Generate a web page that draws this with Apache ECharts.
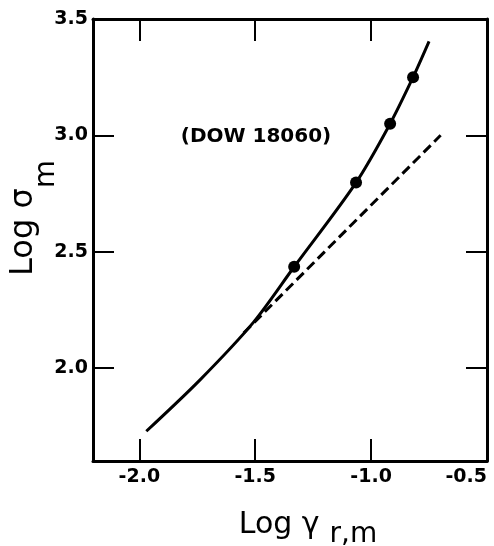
<!DOCTYPE html>
<html>
<head>
<meta charset="utf-8">
<script src="https://cdn.jsdelivr.net/npm/echarts@6/dist/echarts.min.js"></script>
<style>
html,body{margin:0;padding:0;background:#fff;}
#chart{width:494px;height:546px;}
</style>
</head>
<body>
<div id="chart"></div>
<script>
// Solid curve (Log gamma_r,m vs Log sigma_m)
const curveX = [-1.97, -1.737, -1.507, -1.332, -1.065, -0.918, -0.819, -0.75];
const curveY = [1.728, 1.95, 2.197, 2.435, 2.797, 3.05, 3.25, 3.404];
// Measured points
const pointsX = [-1.332, -1.065, -0.918, -0.819];
const pointsY = [2.435, 2.797, 3.05, 3.25];
// Dashed straight line
const dashX = [-1.55, -0.70];
const dashY = [2.15, 3.0];
// Tick labels
const xTicks = [-2.0, -1.5, -1.0, -0.5];
const yTicks = [2.0, 2.5, 3.0, 3.5];
const annotation = '(DOW 18060)';

const zip = (a, b) => a.map((v, i) => [v, b[i]]);
const font = 'DejaVu Sans';

const chart = echarts.init(document.getElementById('chart'));
const axisLine = { show: true, lineStyle: { color: '#000', width: 3 } };
const tickStyle = { color: '#000', width: 2 };

chart.setOption({
  animation: false,
  backgroundColor: '#fff',
  grid: { left: 93, right: 7, top: 19, bottom: 85, containLabel: false, outerBoundsMode: 'none' },
  xAxis: [{
    type: 'value', min: -2.2, max: -0.5, position: 'bottom',
    axisLine: axisLine,
    splitLine: { show: false },
    axisTick: { show: true, inside: true, length: 22, lineStyle: tickStyle, customValues: xTicks.slice(0, 3) },
    axisLabel: { customValues: xTicks, formatter: v => v.toFixed(1), color: '#000', fontFamily: font, fontWeight: 'bold', fontSize: 19, margin: 7, alignMaxLabel: 'right' },
    name: '{m|Log γ}{s|r,m}', nameLocation: 'middle', nameGap: 49,
    nameTextStyle: {
      padding: [0, 0, 0, 36],
      rich: {
        m: { fontFamily: font, fontSize: 30, color: '#000', verticalAlign: 'top', lineHeight: 32 },
        s: { fontFamily: font, fontSize: 28, color: '#000', verticalAlign: 'top', lineHeight: 32, padding: [11, 0, 0, 10] }
      }
    }
  }, {
    type: 'value', min: -2.2, max: -0.5, position: 'top',
    axisLine: axisLine,
    splitLine: { show: false },
    axisTick: { show: true, inside: true, length: 22, lineStyle: tickStyle, customValues: xTicks.slice(0, 3) },
    axisLabel: { show: false }
  }],
  yAxis: [{
    type: 'value', min: 1.6, max: 3.5, position: 'left',
    axisLine: axisLine,
    splitLine: { show: false },
    axisTick: { show: true, inside: true, length: 21, lineStyle: tickStyle, customValues: yTicks.slice(0, 3) },
    axisLabel: { customValues: yTicks, formatter: v => v.toFixed(1), color: '#000', fontFamily: font, fontWeight: 'bold', fontSize: 19, margin: 5 },
    name: '{m|Log σ}{s|m}', nameLocation: 'middle', nameGap: 51, nameRotate: 90, nameMoveOverlap: false,
    nameTextStyle: {
      padding: [0, 0, 0, 44],
      rich: {
        m: { fontFamily: font, fontSize: 32, color: '#000', verticalAlign: 'top', lineHeight: 34 },
        s: { fontFamily: font, fontSize: 29, color: '#000', verticalAlign: 'top', lineHeight: 34, padding: [24, 0, 0, 0] }
      }
    }
  }, {
    type: 'value', min: 1.6, max: 3.5, position: 'right',
    axisLine: axisLine,
    splitLine: { show: false },
    axisTick: { show: true, inside: true, length: 21, lineStyle: tickStyle, customValues: yTicks.slice(0, 3) },
    axisLabel: { show: false }
  }],
  graphic: [{
    type: 'text', x: 256, y: 137,
    style: { text: annotation, fontFamily: font, fontWeight: 'bold', fontSize: 20, fill: '#000', align: 'center', verticalAlign: 'middle' }
  }],
  series: [{
    type: 'line', data: zip(curveX, curveY), smooth: 0.3, showSymbol: false,
    lineStyle: { color: '#000', width: 3 }
  }, {
    type: 'line', data: zip(dashX, dashY), showSymbol: false,
    lineStyle: { color: '#000', width: 3, type: [10, 5] }
  }, {
    type: 'scatter', data: zip(pointsX, pointsY), symbolSize: 12,
    itemStyle: { color: '#000', opacity: 1 }
  }]
});
</script>
</body>
</html>
